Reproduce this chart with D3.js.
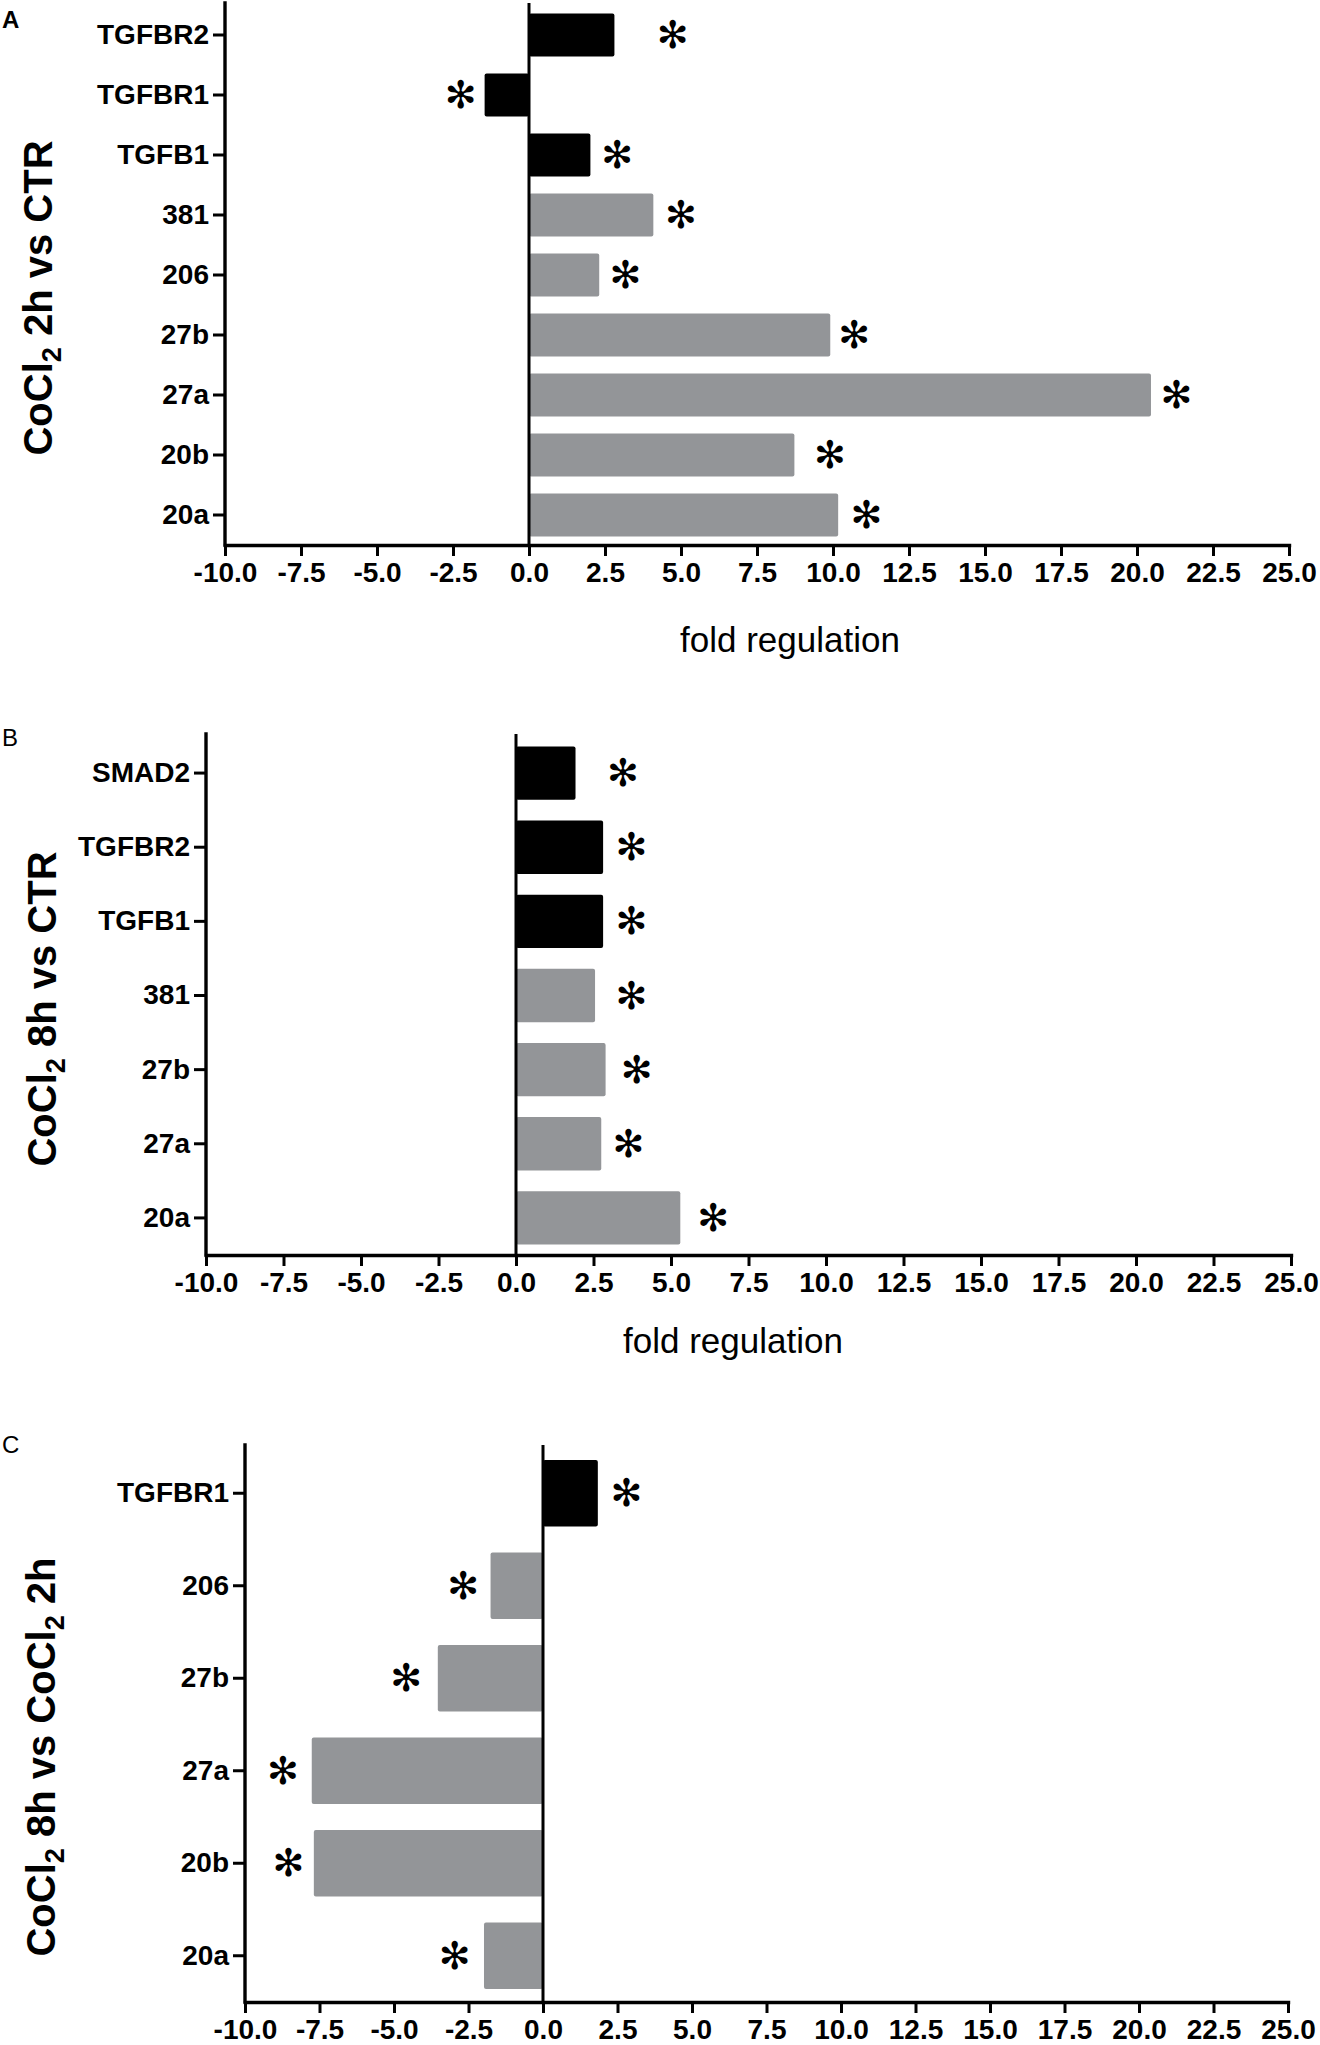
<!DOCTYPE html>
<html>
<head>
<meta charset="utf-8">
<script src="https://cdn.jsdelivr.net/npm/d3@7"></script>
<style>
  body { margin: 0; background: #fff; }
  svg { display: block; }
</style>
</head>
<body>
<div id="chart"></div>
<script>
// Panel A: CoCl2 2h vs CTR
const catsA = ['TGFBR2', 'TGFBR1', 'TGFB1', '381', '206', '27b', '27a', '20b', '20a'];
const valsA = [2.81, -1.46, 2.02, 4.09, 2.31, 9.91, 20.46, 8.73, 10.17];
const starsA = [4.73, -2.25, 2.9, 5.0, 3.17, 10.7, 21.3, 9.9, 11.1];

// Panel B: CoCl2 8h vs CTR
const catsB = ['SMAD2', 'TGFBR2', 'TGFB1', '381', '27b', '27a', '20a'];
const valsB = [1.92, 2.81, 2.81, 2.55, 2.89, 2.75, 5.3];
const starsB = [3.45, 3.72, 3.72, 3.72, 3.89, 3.63, 6.36];

// Panel C: CoCl2 8h vs CoCl2 2h
const catsC = ['TGFBR1', '206', '27b', '27a', '20b', '20a'];
const valsC = [1.84, -1.76, -3.53, -7.76, -7.69, -1.98];
const starsC = [2.8, -2.68, -4.59, -8.73, -8.54, -2.96];

// genes are drawn black, miRNAs grey
const genes = ['TGFBR2', 'TGFBR1', 'TGFB1', 'SMAD2'];
const xTicks = d3.range(-10, 25.01, 2.5);
const xDomain = [-10, 25];

const W = 1320, H = 2045;
const svg = d3.select('#chart').append('svg')
  .attr('width', W)
  .attr('height', H);

const panels = [
  { letter: 'A', bold: true, cats: catsA, vals: valsA, stars: starsA,
    x0: 225, x1: 1289, top: 5, bottom: 545,
    title: [['CoCl', false], ['2', true], [' 2h vs CTR', false]],
    titleX: 38, titleY: 298, labelY: 19, fold: [790, 652] },
  { letter: 'B', bold: false, cats: catsB, vals: valsB, stars: starsB,
    x0: 206, x1: 1291, top: 736, bottom: 1255,
    title: [['CoCl', false], ['2', true], [' 8h vs CTR', false]],
    titleX: 42, titleY: 1009, labelY: 737, fold: [733, 1353] },
  { letter: 'C', bold: false, cats: catsC, vals: valsC, stars: starsC,
    x0: 245, x1: 1288, top: 1447, bottom: 2002,
    title: [['CoCl', false], ['2', true], [' 8h vs CoCl', false], ['2', true], [' 2h', false]],
    titleX: 41, titleY: 1757, labelY: 1444, fold: null }
];

function drawPanel(p) {
  const g = svg.append('g');

  const x = d3.scaleLinear().domain(xDomain).range([p.x0, p.x1]);
  const y = d3.scaleBand().domain(p.cats).range([p.top, p.bottom])
    .paddingInner(0.28).paddingOuter(0.14);

  const rows = p.cats.map((c, i) => ({ c, v: p.vals[i], s: p.stars[i] }));

  // bars
  g.selectAll('rect.bar')
    .data(rows)
    .join('rect')
    .attr('class', 'bar')
    .attr('x', d => x(Math.min(0, d.v)))
    .attr('y', d => y(d.c))
    .attr('width', d => Math.abs(x(d.v) - x(0)))
    .attr('height', y.bandwidth())
    .attr('rx', 2)
    .attr('fill', d => genes.includes(d.c) ? '#000' : '#939598');

  // zero line
  g.append('line')
    .attr('x1', x(0)).attr('x2', x(0))
    .attr('y1', p.top - 2).attr('y2', p.bottom)
    .attr('stroke', '#000')
    .attr('stroke-width', 3);

  // significance stars
  g.selectAll('text.star')
    .data(rows)
    .join('text')
    .attr('class', 'star')
    .attr('x', d => x(d.s))
    .attr('y', d => y(d.c) + y.bandwidth() / 2)
    .attr('dominant-baseline', 'central')
    .attr('text-anchor', 'middle')
    .style('font-family', 'DejaVu Sans, sans-serif')
    .style('font-size', '38px')
    .text('\u273B');

  // x axis
  const xAxis = g.append('g')
    .attr('transform', `translate(0,${p.bottom})`)
    .call(d3.axisBottom(x).tickValues(xTicks).tickFormat(d => d.toFixed(1))
      .tickSize(11).tickPadding(6).tickSizeOuter(0));

  // y axis
  const yAxis = g.append('g')
    .attr('transform', `translate(${p.x0},0)`)
    .call(d3.axisLeft(y).tickSize(12).tickPadding(4).tickSizeOuter(0));
  yAxis.select('.domain').attr('d', `M0,${p.top - 2}V${p.bottom}`);

  [xAxis, yAxis].forEach(a => {
    a.select('.domain').attr('stroke-width', 3.4).attr('stroke-linecap', 'square');
    a.selectAll('.tick line').attr('stroke-width', 3);
    a.selectAll('.tick text')
      .attr('fill', '#000')
      .style('font-family', 'Liberation Sans, Arial, sans-serif')
      .style('font-weight', 'bold')
      .style('font-size', '28px');
  });

  // panel letter
  g.append('text')
    .attr('x', 2).attr('y', p.labelY)
    .attr('dy', '0.36em')
    .style('font-family', 'Liberation Sans, Arial, sans-serif')
    .style('font-weight', p.bold ? 'bold' : 'normal')
    .style('font-size', '24px')
    .text(p.letter);

  // y title with subscript
  const t = g.append('text')
    .attr('transform', `translate(${p.titleX},${p.titleY}) rotate(-90)`)
    .attr('text-anchor', 'middle')
    .attr('dy', '0.36em')
    .style('font-family', 'Liberation Sans, Arial, sans-serif')
    .style('font-weight', 'bold')
    .style('font-size', '40px');
  let shifted = false;
  p.title.forEach(([s, sub]) => {
    const ts = t.append('tspan').text(s);
    if (sub) { ts.attr('dy', 9).style('font-size', '27px'); shifted = true; }
    else if (shifted) { ts.attr('dy', -9); shifted = false; }
  });

  if (p.fold) {
    g.append('text')
      .attr('x', p.fold[0]).attr('y', p.fold[1])
      .attr('text-anchor', 'middle')
      .style('font-family', 'Liberation Sans, Arial, sans-serif')
      .style('font-size', '35px')
      .text('fold regulation');
  }
}

panels.forEach(drawPanel);
</script>
</body>
</html>
